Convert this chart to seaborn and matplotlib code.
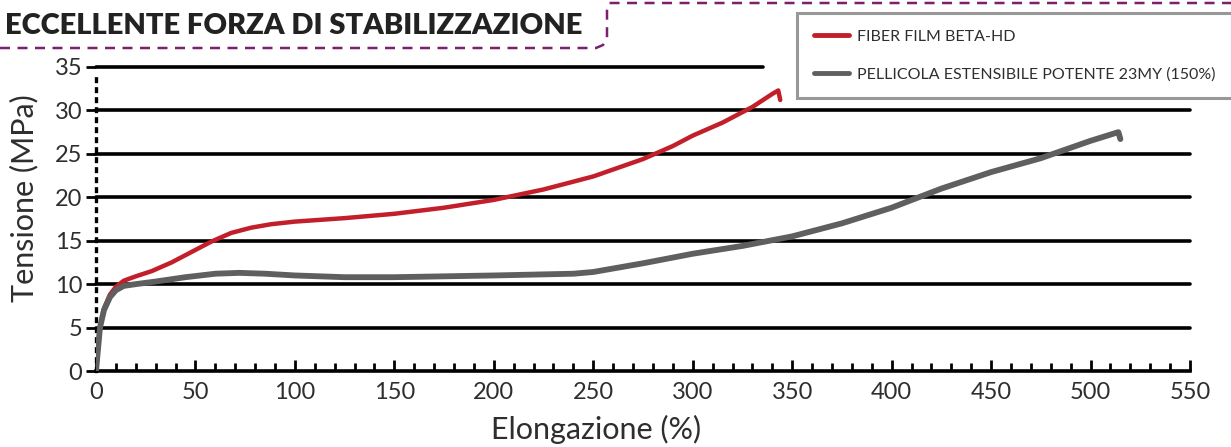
import numpy as np
import pandas as pd
import matplotlib
matplotlib.use("Agg")
import matplotlib.pyplot as plt
from matplotlib.lines import Line2D
import seaborn as sns

# curves
fiber_x = [0, 1, 2, 4, 7, 10, 14, 20, 28, 38, 48, 58, 68, 78, 88, 100, 125, 150, 175,
           200, 225, 250, 275, 290, 300, 315, 330, 340, 343, 344]
fiber_y = [0, 2.5, 5, 7.2, 8.8, 9.7, 10.4, 10.9, 11.5, 12.5, 13.7, 14.9, 15.9, 16.5,
           16.9, 17.2, 17.6, 18.1, 18.8, 19.7, 20.9, 22.4, 24.4, 25.9, 27.1, 28.6, 30.4,
           31.9, 32.3, 31.2]
film_x = [0, 1, 2, 4, 7, 10, 14, 20, 30, 45, 60, 72, 85, 100, 125, 150, 200, 240, 250,
          260, 275, 300, 325, 350, 375, 400, 425, 450, 475, 500, 514, 515]
film_y = [0, 2.5, 5, 7, 8.5, 9.3, 9.8, 10.0, 10.3, 10.8, 11.2, 11.3, 11.2, 11.0, 10.8,
          10.8, 11.0, 11.2, 11.4, 11.8, 12.4, 13.5, 14.4, 15.5, 17.0, 18.8, 21.0, 22.9,
          24.5, 26.5, 27.5, 26.7]
series = ["FIBER FILM BETA-HD", "PELLICOLA ESTENSIBILE POTENTE 23MY (150%)"]
colors = ["#c21f2b", "#5f5f5f"]
x_ticks = list(range(0, 551, 50))
y_ticks = list(range(0, 36, 5))

df = pd.concat([
    pd.DataFrame({"x": fiber_x, "y": fiber_y, "s": series[0]}),
    pd.DataFrame({"x": film_x, "y": film_y, "s": series[1]}),
])

sns.set_style("white")
plt.rcParams['font.family'] = ['Lato', 'DejaVu Sans']
text_c = "#2e2e2e"

fig = plt.figure(figsize=(12.31, 4.47), dpi=100)
ax = fig.add_axes([96 / 1231, 1 - 371 / 447, (1190 - 96) / 1231, (371 - 67) / 447])

for yv in y_ticks[1:]:
    xmax = 0.61 if yv == 35 else 1.0
    ax.axhline(yv, xmin=0, xmax=xmax, color="black", lw=2.6, zorder=1, clip_on=False)

for s, c, lw in zip(series, colors, [3.2, 4.2]):
    sub = df[df.s == s]
    sns.lineplot(data=sub, x="x", y="y", sort=False, color=c, lw=lw, ax=ax,
                 legend=False, zorder=3, estimator=None, solid_capstyle="round",
                 solid_joinstyle="round")

ax.set_xlim(0, 550)
ax.set_ylim(0, 35)
ax.set_xticks(x_ticks)
ax.set_xticks(range(0, 551, 10), minor=True)
ax.set_yticks(y_ticks)
ax.tick_params(axis="x", which="both", direction="in", length=6, width=2, color="black",
               labelsize=17, pad=8, bottom=True, labelcolor=text_c)
ax.tick_params(axis="x", which="major", length=8)
ax.tick_params(axis="y", direction="out", length=7, width=2, color="black",
               labelsize=17, pad=3, left=True, labelcolor=text_c)

for sp in ["top", "right"]:
    ax.spines[sp].set_visible(False)
ax.spines["bottom"].set_color("black")
ax.spines["bottom"].set_linewidth(2.6)
ax.spines["left"].set_color("black")
ax.spines["left"].set_linewidth(2.4)
ax.spines["left"].set_linestyle((0, (0.8, 2.2)))
ax.spines["left"].set_bounds(0, 34)

ax.set_xlabel("Elongazione (%)", fontsize=22, color=text_c)
ax.set_ylabel("Tensione (MPa)", fontsize=22, color=text_c)
ax.xaxis.set_label_coords(0.457, -0.145)
ax.yaxis.set_label_coords(-0.053, 0.569)

handles = [Line2D([0], [0], color=c, lw=3.5) for c in colors]
leg = fig.legend(handles, series, loc="upper left", bbox_to_anchor=(797 / 1231, 1 - 13 / 447),
                 fontsize=11.5, frameon=True, fancybox=False, edgecolor="#7f7f7f",
                 handlelength=2.2, labelspacing=1.45, borderpad=1.05, handletextpad=0.5,
                 borderaxespad=0)
leg.get_frame().set_linewidth(2.2)
for t in leg.get_texts():
    t.set_color(text_c)

# title with dashed purple frame
fig.text(5 / 1231, 1 - 26 / 447, "ECCELLENTE FORZA DI STABILIZZAZIONE", fontsize=21,
         fontweight="heavy", color="#222222", va="center", ha="left")
purple = "#7b1f6e"
W, H = 1231, 447
pts_x = [0, 596, 603, 607, 607, 609, 1231]
pts_y = [48, 48, 45, 38, 10, 3, 3]
fig.add_artist(Line2D([p / W for p in pts_x], [1 - p / H for p in pts_y],
                      transform=fig.transFigure, color=purple, lw=1.8, ls=(0, (4, 3))))

fig.savefig("out.png", dpi=100)
